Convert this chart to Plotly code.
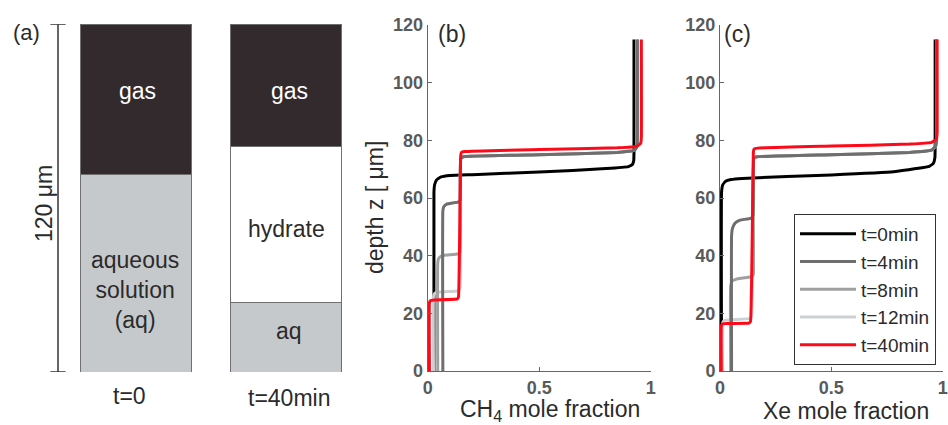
import plotly.graph_objects as go

# ---------------- data ----------------
# Panel (a): layer thicknesses in micrometres (bottom -> top)
bar_labels = ["t=0", "t=40min"]
aq_thick = [68, 24]
hydrate_thick = [0, 54]
gas_thick = [52, 42]
column_height = [0, 120]

# Panel (b): CH4 mole fraction profiles (x = mole fraction, y = depth z [um])
series_names = ["t=0min", "t=4min", "t=8min", "t=12min", "t=40min"]

ch4_t0_x = [0.028, 0.028, 0.031, 0.040, 0.060, 0.100, 0.200, 0.500, 0.800, 0.900, 0.918, 0.924, 0.925, 0.925]
ch4_t0_y = [0, 62.0, 64.6, 66.3, 67.3, 67.8, 68.1, 69.0, 70.2, 70.9, 71.6, 73.0, 76.0, 115]

ch4_t4_x = [0.068, 0.068, 0.072, 0.085, 0.110, 0.136, 0.145, 0.148, 0.160, 0.500, 0.850, 0.925, 0.936, 0.940, 0.940]
ch4_t4_y = [0, 55.5, 57.0, 57.9, 58.3, 58.6, 59.3, 73.6, 74.3, 75.0, 75.8, 76.5, 77.5, 80.0, 115]

ch4_t8_x = [0.045, 0.045, 0.049, 0.060, 0.085, 0.136, 0.145, 0.148, 0.160, 0.500, 0.850, 0.925, 0.936, 0.940, 0.940]
ch4_t8_y = [0, 37.5, 39.0, 39.8, 40.2, 40.6, 41.3, 73.6, 74.3, 75.0, 75.8, 76.5, 77.5, 80.0, 115]

ch4_t12_x = [0.026, 0.026, 0.030, 0.045, 0.080, 0.136, 0.145, 0.148, 0.160, 0.500, 0.850, 0.925, 0.936, 0.940, 0.940]
ch4_t12_y = [0, 25.8, 26.8, 27.3, 27.5, 27.8, 28.5, 73.6, 74.3, 75.0, 75.8, 76.5, 77.5, 80.0, 115]

ch4_t40_x = [0.008, 0.008, 0.012, 0.030, 0.133, 0.138, 0.148, 0.151, 0.165, 0.500, 0.850, 0.940, 0.955, 0.958, 0.958]
ch4_t40_y = [0, 23.8, 24.4, 24.6, 25.0, 25.6, 74.6, 75.8, 76.1, 76.8, 77.4, 78.0, 79.0, 81.0, 115]

# Panel (c): Xe mole fraction profiles
xe_t0_x = [0.007, 0.007, 0.012, 0.025, 0.050, 0.100, 0.500, 0.780, 0.880, 0.940, 0.958, 0.965, 0.966, 0.966]
xe_t0_y = [0, 62.0, 64.5, 65.8, 66.4, 66.8, 68.0, 69.1, 70.2, 71.0, 72.0, 74.0, 77.0, 115]

xe_t4_x = [0.052, 0.052, 0.056, 0.068, 0.090, 0.140, 0.148, 0.152, 0.165, 0.500, 0.850, 0.950, 0.968, 0.972, 0.972]
xe_t4_y = [0, 47.0, 49.5, 51.3, 52.3, 53.0, 54.0, 73.8, 74.3, 75.0, 75.8, 76.6, 78.0, 80.0, 115]

xe_t8_x = [0.048, 0.048, 0.055, 0.080, 0.145, 0.150, 0.152, 0.165, 0.500, 0.850, 0.950, 0.968, 0.972, 0.972]
xe_t8_y = [0, 29.5, 31.2, 32.0, 32.8, 33.5, 73.8, 74.3, 75.0, 75.8, 76.6, 78.0, 80.0, 115]

xe_t12_x = [0.012, 0.012, 0.020, 0.060, 0.135, 0.142, 0.152, 0.165, 0.500, 0.850, 0.950, 0.968, 0.972, 0.972]
xe_t12_y = [0, 16.8, 17.5, 17.8, 18.2, 19.0, 73.8, 74.3, 75.0, 75.8, 76.6, 78.0, 80.0, 115]

xe_t40_x = [0.006, 0.006, 0.010, 0.030, 0.130, 0.137, 0.150, 0.153, 0.170, 0.500, 0.850, 0.950, 0.972, 0.975, 0.975]
xe_t40_y = [0, 15.6, 16.3, 16.5, 16.6, 17.2, 76.0, 77.0, 77.3, 78.0, 78.7, 79.3, 80.5, 83.0, 115]

x_tick_vals = [0, 0.5, 1]
x_tick_text = ["0", "0.5", "1"]
y_tick_vals = [0, 20, 40, 60, 80, 100, 120]

# ---------------- styles ----------------
W, H = 948, 425
FONT = "Liberation Sans, Arial, Helvetica, sans-serif"
series_colors = ["#000000", "#6e6e6e", "#a0a0a0", "#cdd0d2", "#fd0a1a"]
GAS = "#332a2d"
AQ = "#c6c9cb"
TXT = "#2b2b2b"
AXC = "#666666"
TICKC = "#5a5a5a"


def px_x(p):
    return p / W


def px_y(p):
    return (H - p) / H


fig = go.Figure()

# ---- panel (a): stacked columns ----
for name, vals, col in [("aq", aq_thick, AQ), ("hydrate", hydrate_thick, "#ffffff"), ("gas", gas_thick, GAS)]:
    fig.add_trace(go.Bar(
        x=[0, 1], y=vals, width=0.745, marker=dict(color=col, line=dict(color="#707070", width=1)),
        xaxis="x", yaxis="y", showlegend=False, hoverinfo="skip",
    ))

# scale bar (120 um)
fig.add_trace(go.Scatter(
    x=[-0.52, -0.52], y=column_height, mode="lines+markers",
    line=dict(color="#333333", width=1.5),
    marker=dict(symbol="line-ew", size=11, line=dict(color="#333333", width=1.5)),
    xaxis="x", yaxis="y", showlegend=False, hoverinfo="skip",
))

# ---- panels (b) and (c) ----
ch4 = [(ch4_t0_x, ch4_t0_y), (ch4_t4_x, ch4_t4_y), (ch4_t8_x, ch4_t8_y), (ch4_t12_x, ch4_t12_y), (ch4_t40_x, ch4_t40_y)]
xe = [(xe_t0_x, xe_t0_y), (xe_t4_x, xe_t4_y), (xe_t8_x, xe_t8_y), (xe_t12_x, xe_t12_y), (xe_t40_x, xe_t40_y)]
draw_order = [0, 3, 2, 1, 4]

for i in draw_order:
    fig.add_trace(go.Scatter(
        x=ch4[i][0], y=ch4[i][1], mode="lines", name=series_names[i],
        line=dict(color=series_colors[i], width=3, shape="spline", smoothing=0.3),
        xaxis="x2", yaxis="y2", showlegend=False,
    ))
for i in draw_order:
    fig.add_trace(go.Scatter(
        x=xe[i][0], y=xe[i][1], mode="lines", name=series_names[i],
        line=dict(color=series_colors[i], width=3, shape="spline", smoothing=0.3),
        xaxis="x3", yaxis="y3", showlegend=True, legendrank=i + 1,
    ))

axis_common = dict(
    showline=True, linecolor=AXC, linewidth=1, ticks="inside", ticklen=4, tickcolor=AXC,
    showgrid=False, zeroline=False,
    tickfont=dict(family=FONT, size=18, color=TICKC, weight="bold"),
)

xdom_a = [0, px_x(360)]
ydom_a = [px_y(372), px_y(24.3)]
ydom_bc = [px_y(371), px_y(25)]

fig.update_layout(
    width=W, height=H,
    margin=dict(l=0, r=0, t=0, b=0, autoexpand=False),
    paper_bgcolor="white", plot_bgcolor="white",
    barmode="stack",
    font=dict(family=FONT, color=TXT),
    xaxis=dict(domain=xdom_a, range=[-136 / 150, -136 / 150 + 360 / 150], visible=False, fixedrange=True),
    yaxis=dict(domain=ydom_a, range=[0, 120], visible=False, anchor="x"),
    xaxis2=dict(domain=[px_x(427.7), px_x(650.7)], range=[0, 1], anchor="y2",
                tickvals=x_tick_vals, ticktext=x_tick_text, **axis_common),
    yaxis2=dict(domain=ydom_bc, range=[0, 120], anchor="x2", tickvals=y_tick_vals, **axis_common),
    xaxis3=dict(domain=[px_x(720), px_x(942.7)], range=[0, 1], anchor="y3",
                tickvals=x_tick_vals, ticktext=x_tick_text, **axis_common),
    yaxis3=dict(domain=ydom_bc, range=[0, 120], anchor="x3", tickvals=y_tick_vals, **axis_common),
    legend=dict(
        x=px_x(794), y=px_y(214), xanchor="left", yanchor="top",
        bordercolor="#333333", borderwidth=1, bgcolor="white",
        font=dict(family=FONT, size=19, color=TXT),
        itemwidth=56, tracegroupgap=0, traceorder="normal",
    ),
    showlegend=True,
)

ann = []


def add_text(text, x, y, size=23, color=TXT, angle=0):
    ann.append(dict(text=text, x=px_x(x), y=px_y(y), xref="paper", yref="paper",
                    showarrow=False, xanchor="center", yanchor="middle", textangle=angle,
                    font=dict(family=FONT, size=size, color=color)))


add_text("(a)", 26, 32, size=22)
add_text("(b)", 452, 34)
add_text("(c)", 737, 34)
add_text("120 μm", 44, 204, angle=-90)
add_text("gas", 137.5, 91, color="white")
add_text("gas", 289, 91, color="white")
add_text("aqueous<br>solution<br>(aq)", 135, 290)
add_text("hydrate", 286, 229)
add_text("aq", 289, 331)
add_text(bar_labels[0], 129, 396)
add_text(bar_labels[1], 289, 398)
add_text("depth z [ μm]", 375, 208, angle=-90)
add_text("CH<sub>4</sub> mole fraction", 549.5, 410)
add_text("Xe mole fraction", 846, 411)

fig.update_layout(annotations=ann)

fig.write_html(
    "out.html",
    config={"displayModeBar": False},
    post_script="document.body.style.margin='0px';document.body.style.padding='0px';document.body.style.overflow='hidden';",
)
